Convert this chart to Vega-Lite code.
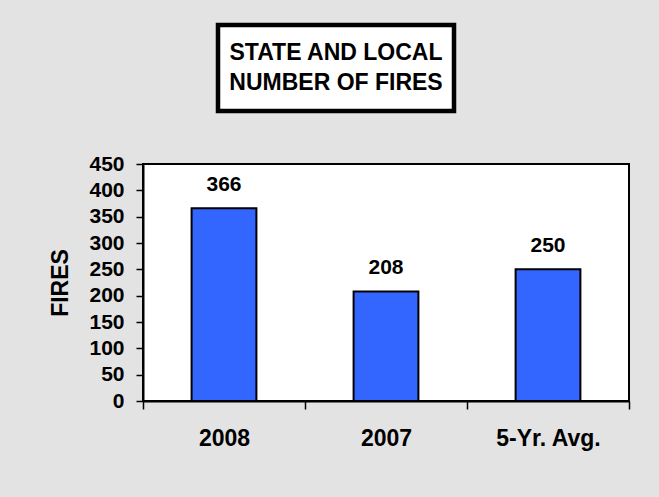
{
  "$schema": "https://vega.github.io/schema/vega-lite/v6.json",
  "background": "#e3e3e3",
  "padding": {"left": 48, "top": 22, "right": 32, "bottom": 46},
  "config": {
    "font": "Liberation Sans",
    "concat": {"spacing": 38}
  },
  "vconcat": [
    {
      "spacing": 20,
      "hconcat": [
        {
          "width": 52,
          "height": 86,
          "view": {"stroke": null, "fill": null},
          "data": {"values": []},
          "mark": "point"
        },
        {
          "width": 236,
          "height": 86,
          "view": {"fill": "white", "stroke": "black", "strokeWidth": 4.5},
          "data": {"values": [
            {"line": "STATE AND LOCAL", "order": 1},
            {"line": "NUMBER OF FIRES", "order": 2}
          ]},
          "mark": {"type": "text", "font": "Liberation Sans", "fontWeight": "bold", "fontSize": 23, "color": "black", "baseline": "middle"},
          "encoding": {
            "y": {"field": "order", "type": "ordinal", "axis": null, "scale": {"padding": 0.95}},
            "text": {"field": "line"}
          }
        }
      ]
    },
    {
      "width": 486,
      "height": 237,
      "view": {"fill": "white", "stroke": "black", "strokeWidth": 2},
      "data": {"values": [
        {"period": "2008", "fires": 366},
        {"period": "2007", "fires": 208},
        {"period": "5-Yr. Avg.", "fires": 250}
      ]},
      "encoding": {
        "x": {
          "field": "period", "type": "nominal", "sort": null,
          "scale": {"paddingInner": 0, "paddingOuter": 0},
          "axis": {
            "title": null, "labelAngle": 0, "labelFont": "Liberation Sans", "labelFontWeight": "bold",
            "labelFontSize": 23, "labelColor": "black", "labelPadding": 18,
            "tickBand": "extent", "tickSize": 8, "tickColor": "black", "tickWidth": 1.5,
            "domainColor": "black", "domainWidth": 2
          }
        },
        "y": {
          "field": "fires", "type": "quantitative",
          "scale": {"domain": [0, 450], "nice": false},
          "axis": {
            "title": "FIRES", "titleFont": "Liberation Sans", "titleFontWeight": "bold", "titleFontSize": 23,
            "titleColor": "black", "titlePadding": 16,
            "values": [0, 50, 100, 150, 200, 250, 300, 350, 400, 450],
            "labelFont": "Liberation Sans", "labelFontWeight": "bold", "labelFontSize": 21, "labelColor": "black",
            "labelPadding": 12, "tickSize": 7, "tickColor": "black", "tickWidth": 1.5,
            "grid": false, "domainColor": "black", "domainWidth": 2
          }
        }
      },
      "layer": [
        {"mark": {"type": "bar", "fill": "#3366ff", "stroke": "black", "strokeWidth": 2, "width": {"band": 0.4}}},
        {
          "mark": {"type": "text", "font": "Liberation Sans", "fontWeight": "bold", "fontSize": 21, "color": "black", "baseline": "alphabetic", "dy": -17},
          "encoding": {"text": {"field": "fires", "type": "quantitative"}}
        }
      ]
    }
  ]
}
